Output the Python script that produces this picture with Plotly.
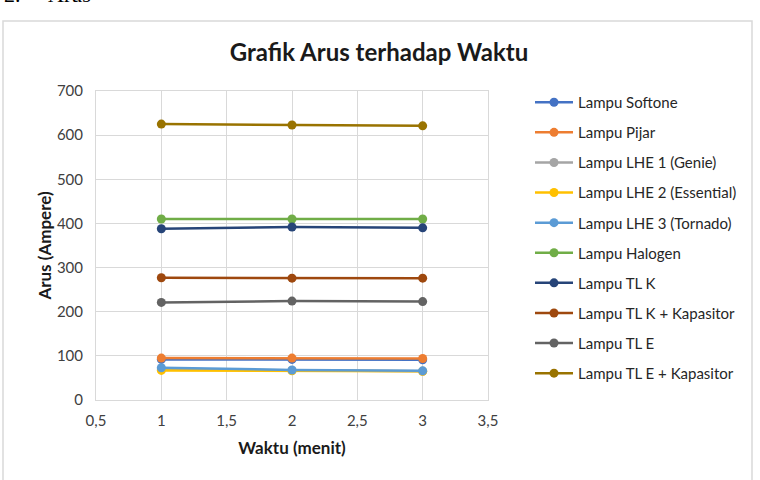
import plotly.graph_objects as go

waktu = [1, 2, 3]
series_names = [
    "Lampu Softone", "Lampu Pijar", "Lampu LHE 1 (Genie)", "Lampu LHE 2 (Essential)",
    "Lampu LHE 3 (Tornado)", "Lampu Halogen", "Lampu TL K", "Lampu TL K + Kapasitor",
    "Lampu TL E", "Lampu TL E + Kapasitor",
]
softone = [92, 92, 91]
pijar = [95, 95, 94]
lhe1 = [70, 67, 65]
lhe2 = [67, 66, 65]
lhe3 = [73, 68, 66]
halogen = [410, 410, 410]
tl_k = [388, 392, 390]
tl_k_kap = [277, 276, 276]
tl_e = [221, 224, 223]
tl_e_kap = [625, 623, 621]
series_values = [softone, pijar, lhe1, lhe2, lhe3, halogen, tl_k, tl_k_kap, tl_e, tl_e_kap]
colors = ["#4472C4", "#ED7D31", "#A5A5A5", "#FFC000", "#5B9BD5",
          "#70AD47", "#264478", "#9E480E", "#636363", "#997300"]

x_tickvals = [0.5, 1, 1.5, 2, 2.5, 3, 3.5]
x_ticktext = ["0,5", "1", "1,5", "2", "2,5", "3", "3,5"]
y_tickvals = [0, 100, 200, 300, 400, 500, 600, 700]

fig = go.Figure()
for i, (name, vals, col) in enumerate(zip(series_names, series_values, colors)):
    fig.add_trace(go.Scatter(
        x=waktu, y=vals, name=name, mode="lines+markers",
        line=dict(color=col, width=2.5),
        marker=dict(color=col, size=9),
        legendgroup=f"g{i}",
    ))

W, H = 760, 480
L, R, T, B = 96, 488, 91, 400
pw, ph = R - L, B - T

def px(x):
    return (x - L) / pw

def py(y):
    return (B - y) / ph

grid = "#d9d9d9"
fig.update_layout(
    width=W, height=H,
    margin=dict(l=L, r=W - R, t=T, b=H - B),
    paper_bgcolor="white", plot_bgcolor="white",
    separators=",.",
    font=dict(family="Lato, Open Sans, sans-serif", color="#404040"),
    title=dict(text="<b>Grafik Arus terhadap Waktu</b>", x=379 / W, xanchor="center",
               xref="container", yref="container",
               y=1 - 53 / H, yanchor="middle",
               font=dict(size=24, color="#1a1a1a", family="Lato, sans-serif")),
    xaxis=dict(range=[0.5, 3.5], tickvals=x_tickvals, ticktext=x_ticktext,
               showgrid=True, gridcolor=grid, gridwidth=1,
               showline=True, linecolor=grid, mirror=True, zeroline=False,
               ticks="", ticklabelstandoff=7, tickfont=dict(size=15, color="#404040"),
               title=dict(text="<b>Waktu (menit)</b>", font=dict(size=17, color="#1a1a1a"), standoff=14)),
    yaxis=dict(range=[0, 700], tickvals=y_tickvals,
               showgrid=True, gridcolor=grid, gridwidth=1,
               showline=True, linecolor=grid, mirror=True, zeroline=False,
               ticks="", ticklabelstandoff=9, tickfont=dict(size=15, color="#404040"),
               title=dict(text="<b>Arus (Ampere)</b>", font=dict(size=17, color="#1a1a1a"), standoff=0)),
    legend=dict(x=px(530), xanchor="left", y=py(86), yanchor="top",
                font=dict(size=15, color="#262626"), itemwidth=38, maxheight=420,
                tracegroupgap=7.6, traceorder="grouped", bgcolor="rgba(0,0,0,0)"),
    shapes=[dict(type="rect", xref="paper", yref="paper",
                 x0=px(3), x1=px(752), y0=py(490), y1=py(21),
                 line=dict(color="#d9d9d9", width=1.5), fillcolor="rgba(0,0,0,0)", layer="below")],
    annotations=[dict(text="2.&nbsp;&nbsp;&nbsp;&nbsp;&nbsp;Arus", xref="paper", yref="paper",
                      x=px(2), y=py(-6), xanchor="left", yanchor="middle", showarrow=False,
                      font=dict(family="Liberation Serif, serif", size=22, color="#000000"))],
)

fig.write_html("out.html")
